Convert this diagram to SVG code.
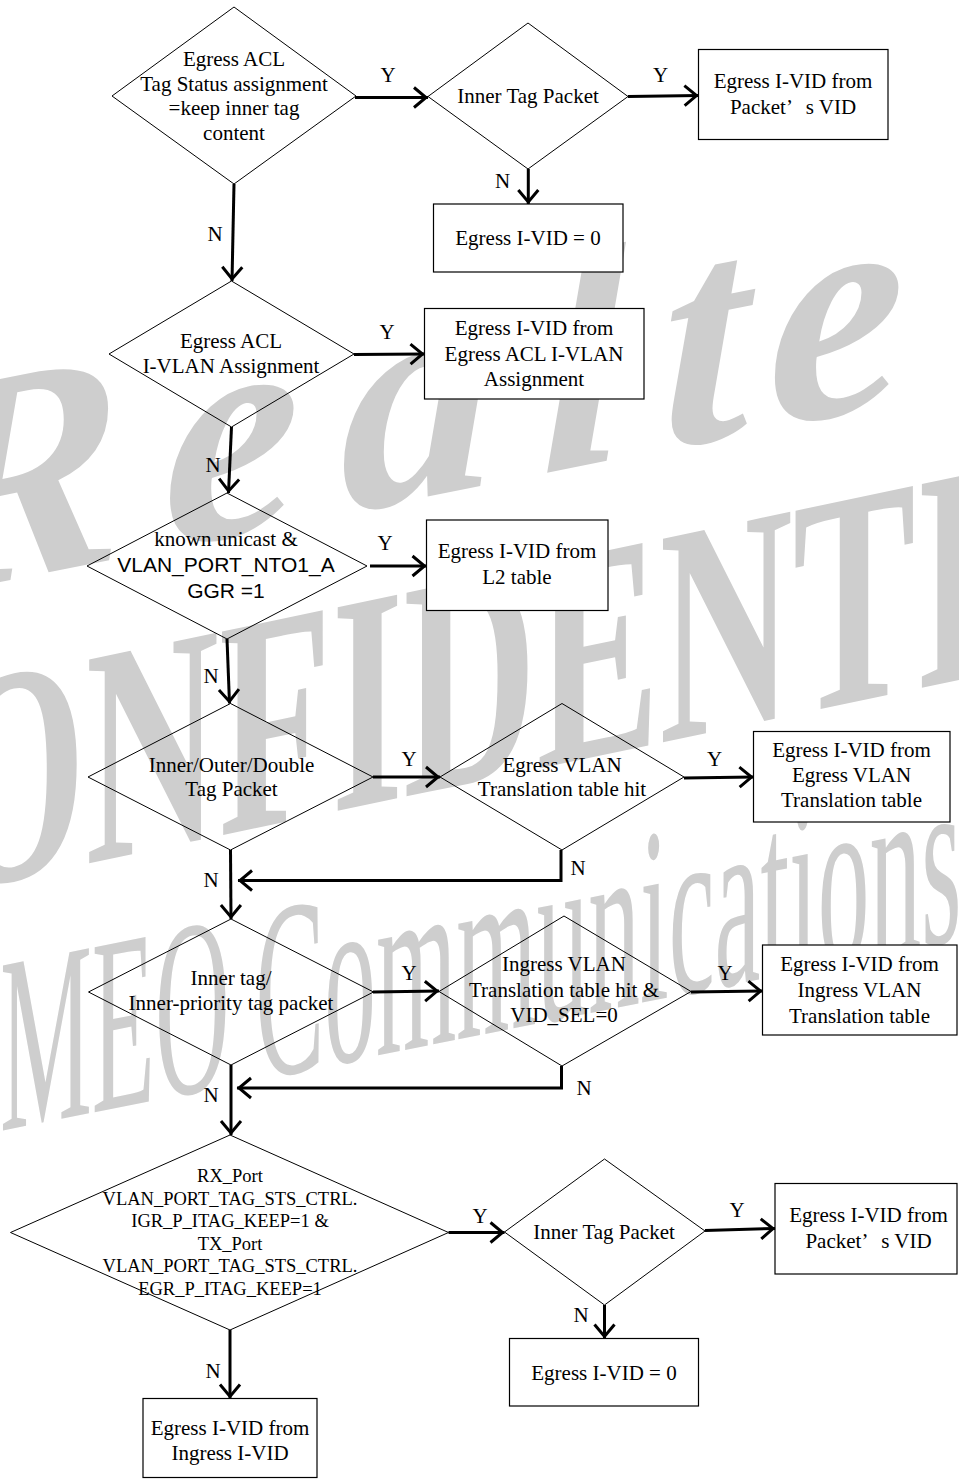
<svg xmlns="http://www.w3.org/2000/svg" width="959" height="1479" viewBox="0 0 959 1479">
  <style>
    .t{font-family:"Liberation Serif","Times New Roman",serif;font-size:21px;fill:#000;text-anchor:middle}
    .s{font-family:"Liberation Sans",Arial,sans-serif;font-size:21px;fill:#000;text-anchor:middle}
    .sm{font-size:18.5px}
    .dia{fill:none;stroke:#000;stroke-width:1}
    .box{fill:#fff;stroke:#000;stroke-width:1.2}
    .wm{fill:#cecece;font-family:"Liberation Serif","Times New Roman",serif}
    .c{fill:none;stroke:#000;stroke-width:3;marker-end:url(#arr)}
  </style>
  <defs>
    <marker id="arr" markerUnits="userSpaceOnUse" markerWidth="20" markerHeight="26" refX="15" refY="11" orient="auto" overflow="visible">
      <path d="M1,1 L13,11 L1,21" fill="none" stroke="#000" stroke-width="3"/>
    </marker>
  </defs>
  <rect width="959" height="1479" fill="#fff"/>

  <!-- background watermark -->
  <g id="watermark" class="wm">
    <text transform="translate(0 582) skewY(-11.3)" x="-84" y="0" dx="0 0 0 5 -5 -20 60" font-size="310" font-weight="bold" font-style="italic" letter-spacing="40">Realtek</text>
    <text transform="translate(0 882) skewY(-11.9) scale(0.593 1)" x="-322" y="0" font-size="311" font-weight="bold">CONFIDENTIAL</text>
    <text transform="translate(0 1131) skewY(-11.3) scale(0.41 1)" x="0" y="0" font-size="252">MEO Communications</text>
  </g>

  <!-- decision: egress ACL keep inner tag -->
  <g id="d-acl-keep">
    <polygon class="dia" points="234,7 356,96 234,184 112,96"/>
    <text class="t" x="234" y="66">Egress ACL</text>
    <text class="t" x="234" y="91">Tag Status assignment</text>
    <text class="t" x="234" y="115">=keep inner tag</text>
    <text class="t" x="234" y="140">content</text>
  </g>
  <g id="d-inner-tag-1">
    <polygon class="dia" points="528,23 628,96.5 528,169 428,96.5"/>
    <text class="t" x="528" y="103">Inner Tag Packet</text>
  </g>
  <g id="r-pkt-vid-1">
    <rect class="box" x="698.5" y="49.5" width="189.5" height="90"/>
    <text class="t" x="793" y="88">Egress I-VID from</text>
    <text class="t" x="793" y="114">Packet’<tspan dx="14">s VID</tspan></text>
  </g>
  <g id="r-zero-1">
    <rect class="box" x="433.5" y="204" width="189.5" height="68"/>
    <text class="t" x="528" y="245">Egress I-VID = 0</text>
  </g>

  <!-- decision: egress ACL I-VLAN -->
  <g id="d-acl-ivlan">
    <polygon class="dia" points="231.5,281 354,354 231.5,427 109,354"/>
    <text class="t" x="231" y="348">Egress ACL</text>
    <text class="t" x="231" y="373">I-VLAN Assignment</text>
  </g>
  <g id="r-acl-ivlan">
    <rect class="box" x="424.5" y="308.5" width="219.5" height="90.5"/>
    <text class="t" x="534" y="335">Egress I-VID from</text>
    <text class="t" x="534" y="360.5">Egress ACL I-VLAN</text>
    <text class="t" x="534" y="385.5">Assignment</text>
  </g>

  <!-- decision: known unicast N:1 aggregation -->
  <g id="d-nto1">
    <polygon class="dia" points="227,493 367,566 227,639 87,566"/>
    <text class="t" x="226" y="546">known unicast &amp;</text>
    <text class="s" x="226" y="572">VLAN_PORT_NTO1_A</text>
    <text class="s" x="226" y="597.5">GGR =1</text>
  </g>
  <g id="r-l2">
    <rect class="box" x="426.5" y="520" width="181.5" height="90.5"/>
    <text class="t" x="517" y="558">Egress I-VID from</text>
    <text class="t" x="517" y="584">L2 table</text>
  </g>

  <!-- decision: tagged packet / egress translation -->
  <g id="d-any-tag">
    <polygon class="dia" points="230.5,703.5 373,777 230.5,850 88,777"/>
    <text class="t" x="231.5" y="771.5">Inner/Outer/Double</text>
    <text class="t" x="231.5" y="796">Tag Packet</text>
  </g>
  <g id="d-egr-xlate">
    <polygon class="dia" points="562,703.5 684,777 562,850 440,777"/>
    <text class="t" x="562" y="772">Egress VLAN</text>
    <text class="t" x="562" y="796">Translation table hit</text>
  </g>
  <g id="r-egr-xlate">
    <rect class="box" x="753.5" y="731.5" width="196.5" height="90.5"/>
    <text class="t" x="851.5" y="757">Egress I-VID from</text>
    <text class="t" x="851.5" y="782">Egress VLAN</text>
    <text class="t" x="851.5" y="807">Translation table</text>
  </g>

  <!-- decision: inner tag / ingress translation -->
  <g id="d-inner-pri">
    <polygon class="dia" points="231,919 373.5,992 231,1065 88.5,992"/>
    <text class="t" x="231" y="985">Inner tag/</text>
    <text class="t" x="231" y="1010">Inner-priority tag packet</text>
  </g>
  <g id="d-igr-xlate">
    <polygon class="dia" points="564,916 691,991.5 562,1066 439,991.5"/>
    <text class="t" x="564" y="971">Ingress VLAN</text>
    <text class="t" x="564" y="997">Translation table hit &amp;</text>
    <text class="t" x="564" y="1022">VID_SEL=0</text>
  </g>
  <g id="r-igr-xlate">
    <rect class="box" x="762.5" y="945" width="194.5" height="90"/>
    <text class="t" x="859.5" y="971">Egress I-VID from</text>
    <text class="t" x="859.5" y="996.5">Ingress VLAN</text>
    <text class="t" x="859.5" y="1022.5">Translation table</text>
  </g>

  <!-- decision: port inner tag keep -->
  <g id="d-itag-keep">
    <polygon class="dia" points="230,1135 448.5,1232.5 230,1330 10.5,1232.5"/>
    <text class="t sm" x="230" y="1182">RX_Port</text>
    <text class="t sm" x="230" y="1204.5">VLAN_PORT_TAG_STS_CTRL.</text>
    <text class="t sm" x="230" y="1227">IGR_P_ITAG_KEEP=1 &amp;</text>
    <text class="t sm" x="230" y="1249.5">TX_Port</text>
    <text class="t sm" x="230" y="1272">VLAN_PORT_TAG_STS_CTRL.</text>
    <text class="t sm" x="230" y="1294.5">EGR_P_ITAG_KEEP=1</text>
  </g>
  <g id="d-inner-tag-2">
    <polygon class="dia" points="604.5,1159 705,1231 604.5,1305 504.5,1232"/>
    <text class="t" x="604" y="1239">Inner Tag Packet</text>
  </g>
  <g id="r-pkt-vid-2">
    <rect class="box" x="775" y="1183.5" width="182" height="90.5"/>
    <text class="t" x="868.5" y="1222">Egress I-VID from</text>
    <text class="t" x="868.5" y="1248">Packet’<tspan dx="14">s VID</tspan></text>
  </g>
  <g id="r-zero-2">
    <rect class="box" x="509.5" y="1338.5" width="189" height="67.5"/>
    <text class="t" x="604" y="1380">Egress I-VID = 0</text>
  </g>
  <g id="r-igr-ivid">
    <rect class="box" x="143" y="1398.5" width="174" height="79"/>
    <text class="t" x="230" y="1435">Egress I-VID from</text>
    <text class="t" x="230" y="1460">Ingress I-VID</text>
  </g>

  <!-- connectors with Y/N labels -->
  <g id="connectors">
    <path class="c" d="M355,97.5 L428,97.5"/>
    <path class="c" d="M628,96.5 L698.5,95.5"/>
    <path class="c" d="M528.3,169 L528.3,204"/>
    <path class="c" d="M234,184 L232,281"/>
    <path class="c" d="M354,354.5 L424.5,354"/>
    <path class="c" d="M231.5,427 L228.5,493"/>
    <path class="c" d="M370,566 L426.5,566"/>
    <path class="c" d="M227,639 L229.5,703.5"/>
    <path class="c" d="M373,777 L440,777"/>
    <path class="c" d="M684,778 L753.5,777"/>
    <path class="c" d="M230.5,850 L231,919"/>
    <path class="c" d="M561,850 L561,880.5 L238,880.5"/>
    <path class="c" d="M373,992 L439,991"/>
    <path class="c" d="M691,992 L762.5,991"/>
    <path class="c" d="M231,1065 L231,1135"/>
    <path class="c" d="M561.5,1066 L561.5,1088 L237,1088"/>
    <path class="c" d="M448.5,1232.5 L504.5,1232.5"/>
    <path class="c" d="M705,1230.5 L775,1228.5"/>
    <path class="c" d="M604.5,1305 L604.5,1338.5"/>
    <path class="c" d="M230,1330 L230,1398.5"/>

    <text class="t" x="388" y="82">Y</text>
    <text class="t" x="660.5" y="82">Y</text>
    <text class="t" x="502.5" y="188">N</text>
    <text class="t" x="215" y="241">N</text>
    <text class="t" x="387" y="339">Y</text>
    <text class="t" x="213" y="472">N</text>
    <text class="t" x="385" y="550">Y</text>
    <text class="t" x="211" y="683">N</text>
    <text class="t" x="409" y="766">Y</text>
    <text class="t" x="714.5" y="766">Y</text>
    <text class="t" x="578" y="875">N</text>
    <text class="t" x="211" y="887">N</text>
    <text class="t" x="409" y="980">Y</text>
    <text class="t" x="725" y="980">Y</text>
    <text class="t" x="584" y="1095">N</text>
    <text class="t" x="211" y="1102">N</text>
    <text class="t" x="480" y="1223">Y</text>
    <text class="t" x="737" y="1217">Y</text>
    <text class="t" x="581" y="1322">N</text>
    <text class="t" x="213" y="1378">N</text>
  </g>
</svg>
